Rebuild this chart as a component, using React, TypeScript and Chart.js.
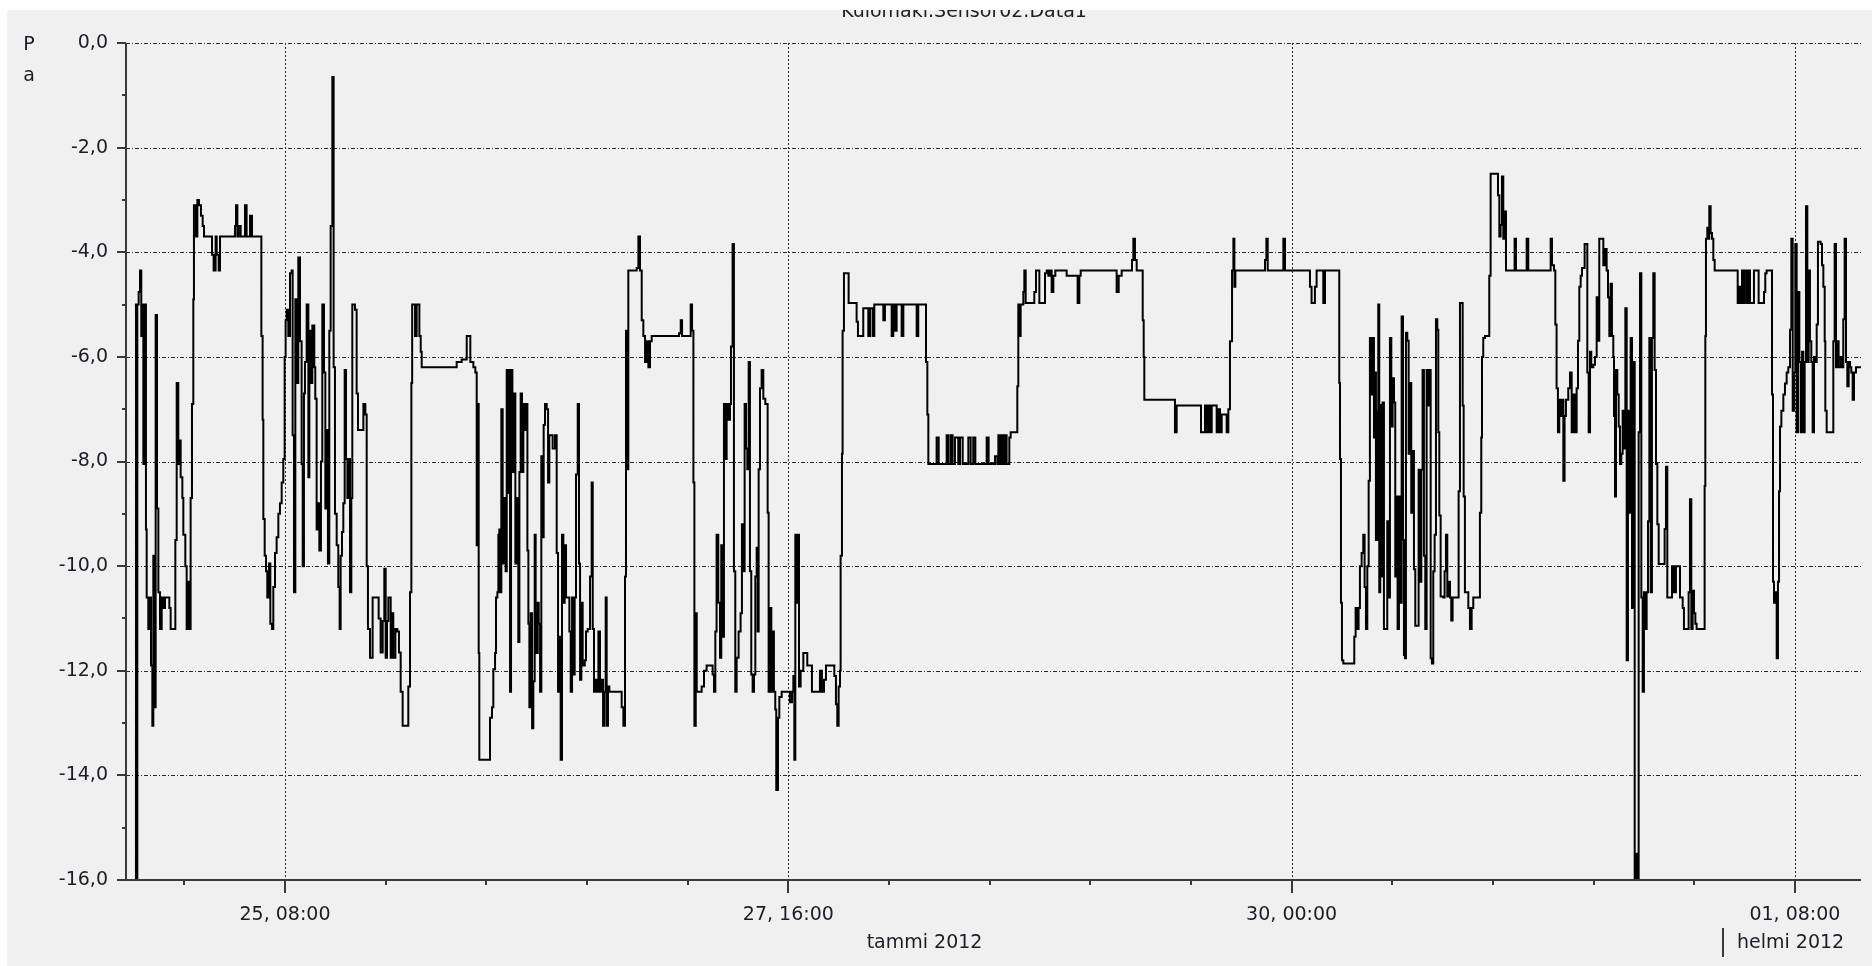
import React, { useEffect, useRef } from 'react';
import { Chart, registerables } from 'chart.js';

Chart.register(...registerables);

// ---- texts ----
const chartTitle = 'Kulomaki.Sensor02.Data1';
const yAxisTitle = ['P', 'a'];
const monthLabels = ['tammi 2012', 'helmi 2012'];
const monthStartHours = [0, 192];

// ---- axes (hours since 24 Jan 2012 00:00) ----
const xMinHour = 14.31;
const xMaxHour = 207.35;
const xTickHours = [32, 88, 144, 200];
const xTickLabels = ['25, 08:00', '27, 16:00', '30, 00:00', '01, 08:00'];
const xMinorHours = [20.8, 43.2, 54.4, 65.6, 76.8, 99.2, 110.4, 121.6, 132.8, 155.2, 166.4, 177.6, 188.8];
const yMin = -16;
const yMax = 0;
const yTickValues = [-16, -14, -12, -10, -8, -6, -4, -2, 0];
const yMinorValues = [-15, -13, -11, -9, -7, -5, -3, -1];

// ---- series: time (h) where each new level starts, and the level (Pa) ----
const hours = [
  15.30, 15.42, 15.57, 15.72, 15.87, 16.01, 16.09, 16.24, 16.42, 16.53, 16.61, 16.79, 16.98, 17.09, 17.24, 17.35,
  17.46, 17.61, 17.76, 17.91, 18.09, 18.28, 18.46, 18.65, 19.13, 19.28, 19.80, 19.95, 20.13, 20.24, 20.39, 20.58,
  20.69, 20.91, 21.06, 21.24, 21.43, 21.50, 21.65, 21.80, 21.87, 22.10, 22.25, 22.43, 22.65, 22.84, 22.99, 23.88,
  24.06, 24.28, 24.40, 24.62, 24.77, 26.44, 26.55, 26.70, 26.84, 27.07, 27.55, 27.73, 28.11, 28.33, 29.37, 29.51,
  29.59, 29.74, 29.89, 30.03, 30.22, 30.37, 30.55, 30.70, 30.89, 31.07, 31.26, 31.44, 31.63, 31.81, 31.96, 32.07,
  32.19, 32.37, 32.56, 32.74, 32.85, 33.00, 33.15, 33.30, 33.48, 33.67, 33.85, 33.97, 34.11, 34.22, 34.41, 34.60,
  34.71, 34.86, 35.04, 35.26, 35.37, 35.52, 35.67, 35.82, 36.00, 36.15, 36.34, 36.49, 36.64, 36.78, 36.93, 37.08,
  37.27, 37.41, 37.56, 37.75, 37.93, 38.08, 38.19, 38.34, 38.49, 38.64, 38.79, 38.94, 39.08, 39.23, 39.38, 39.49,
  39.79, 39.97, 40.12, 40.72, 40.94, 41.09, 41.23, 41.46, 41.75, 42.42, 42.64, 42.87, 43.05, 43.20, 43.35, 43.50,
  43.76, 43.91, 44.05, 44.28, 44.50, 44.68, 44.87, 45.09, 45.72, 45.91, 46.06, 46.15, 46.47, 46.65, 46.95, 47.10,
  47.21, 51.10, 51.66, 52.22, 52.62, 52.96, 53.18, 53.33, 53.44, 53.55, 53.62, 54.81, 55.03, 55.18, 55.37, 55.48,
  55.63, 55.74, 55.85, 55.92, 56.07, 56.22, 56.41, 56.55, 56.67, 56.81, 56.93, 57.04, 57.15, 57.30, 57.48, 57.63,
  57.78, 57.96, 58.08, 58.22, 58.37, 58.52, 58.74, 58.89, 58.97, 59.08, 59.19, 59.34, 59.49, 59.63, 59.78, 59.89,
  60.00, 60.12, 60.23, 60.38, 60.52, 60.67, 60.78, 60.93, 61.12, 61.27, 61.41, 61.78, 62.04, 62.23, 62.38, 62.53,
  62.67, 62.82, 62.97, 63.12, 63.27, 63.64, 63.79, 63.94, 64.08, 64.23, 64.38, 64.57, 64.71, 64.83, 64.97, 65.12,
  65.35, 65.49, 65.68, 65.94, 66.12, 66.24, 66.38, 66.53, 66.68, 66.87, 67.05, 67.24, 67.39, 67.53, 67.68, 67.79,
  67.94, 68.09, 69.46, 69.65, 69.83, 69.94, 70.09, 70.20, 71.13, 71.32, 71.50, 71.69, 71.87, 72.06, 72.24, 72.43,
  72.61, 72.80, 75.84, 76.03, 76.18, 77.14, 77.29, 77.44, 77.55, 77.70, 77.81, 78.36, 78.62, 78.91, 79.58, 79.73,
  79.88, 80.02, 80.21, 80.40, 80.54, 80.69, 80.84, 81.06, 81.14, 81.36, 81.51, 81.62, 81.80, 81.95, 82.10, 82.25,
  82.47, 82.69, 82.84, 82.99, 83.14, 83.29, 83.44, 83.59, 83.73, 83.88, 84.03, 84.18, 84.33, 84.48, 84.59, 84.70,
  84.85, 85.03, 85.22, 85.44, 85.70, 85.81, 85.96, 86.11, 86.26, 86.40, 86.55, 86.66, 86.85, 87.00, 87.26, 88.18,
  88.41, 88.56, 88.67, 88.78, 88.93, 89.07, 89.19, 89.37, 89.67, 90.11, 90.63, 91.52, 91.74, 91.97, 92.19, 93.12,
  93.30, 93.45, 93.60, 93.75, 93.82, 93.97, 94.04, 94.19, 94.71, 95.60, 95.75, 96.34, 96.90, 97.09, 97.38, 97.57,
  98.57, 98.75, 99.50, 99.68, 99.87, 100.05, 100.61, 100.80, 102.28, 102.46, 103.32, 103.47, 103.58, 104.50, 104.73, 105.62,
  105.80, 106.06, 106.28, 106.54, 106.91, 107.10, 107.40, 108.03, 108.29, 108.58, 108.81, 110.07, 110.29, 111.00, 111.26, 111.37,
  111.55, 111.74, 111.92, 112.11, 112.29, 112.59, 112.74, 113.48, 113.59, 113.70, 113.85, 114.15, 114.26, 114.41, 115.37, 115.56,
  115.93, 116.56, 116.75, 116.93, 117.12, 117.30, 117.49, 117.71, 118.97, 120.19, 120.38, 120.53, 124.53, 124.76, 125.09, 126.24,
  126.39, 126.57, 126.76, 127.43, 127.54, 127.61, 131.02, 131.21, 133.92, 134.36, 134.55, 134.73, 134.92, 135.11, 135.66, 135.85,
  136.03, 136.22, 136.77, 136.96, 137.14, 137.37, 137.52, 137.63, 137.74, 141.04, 141.19, 141.34, 143.08, 143.26, 146.04, 146.22,
  146.59, 146.78, 147.52, 147.71, 149.30, 149.38, 149.49, 149.60, 149.75, 150.97, 151.12, 151.30, 151.45, 151.60, 151.79, 151.97,
  152.12, 152.27, 152.42, 152.57, 152.71, 152.86, 153.01, 153.16, 153.27, 153.38, 153.53, 153.64, 153.75, 153.86, 154.01, 154.12,
  154.27, 154.64, 154.79, 154.94, 155.09, 155.24, 155.39, 155.53, 155.68, 155.79, 155.94, 156.13, 156.24, 156.39, 156.50, 156.61,
  156.72, 156.87, 157.02, 157.17, 157.31, 157.46, 157.61, 157.76, 158.13, 158.28, 158.43, 158.57, 158.72, 158.87, 159.02, 159.17,
  159.32, 159.47, 159.61, 159.76, 159.91, 160.06, 160.21, 160.32, 160.43, 160.58, 160.87, 161.02, 161.17, 161.32, 161.47, 161.62,
  161.76, 161.91, 162.58, 162.73, 163.03, 163.14, 163.28, 163.66, 163.84, 164.03, 164.21, 164.95, 165.10, 165.18, 165.32, 165.51,
  165.99, 166.14, 166.96, 167.11, 167.25, 167.40, 167.55, 167.70, 167.85, 168.81, 168.96, 170.15, 170.33, 172.82, 172.97, 173.19,
  173.34, 173.48, 173.63, 173.78, 173.93, 174.08, 174.23, 174.37, 174.52, 174.78, 174.97, 175.16, 175.34, 175.53, 175.71, 175.86,
  176.01, 176.16, 176.31, 176.60, 176.90, 177.05, 177.20, 177.34, 177.57, 177.75, 177.94, 178.12, 178.23, 178.68, 178.86, 179.05,
  179.20, 179.35, 179.49, 179.64, 179.79, 179.87, 179.98, 180.09, 180.24, 180.39, 180.53, 180.68, 180.83, 180.98, 181.13, 181.28,
  181.42, 181.57, 181.72, 181.87, 182.02, 182.17, 182.31, 182.46, 182.61, 182.76, 182.91, 183.06, 183.20, 183.35, 183.50, 183.65,
  183.80, 183.95, 184.09, 184.24, 184.39, 184.54, 184.69, 184.84, 185.50, 185.65, 185.80, 186.32, 186.54, 186.76, 187.21, 187.51,
  187.65, 188.17, 188.32, 188.47, 188.62, 188.77, 188.92, 189.06, 189.95, 190.03, 190.10, 190.25, 190.40, 190.47, 190.62, 190.77,
  190.92, 191.07, 193.63, 193.81, 193.96, 194.11, 194.26, 194.40, 194.63, 194.81, 195.00, 195.44, 195.96, 196.56, 196.70, 196.85,
  197.45, 197.56, 197.67, 197.82, 197.97, 198.11, 198.23, 198.34, 198.49, 198.71, 198.89, 199.08, 199.26, 199.45, 199.60, 199.75,
  199.89, 200.04, 200.19, 200.34, 200.49, 200.64, 200.79, 200.93, 201.08, 201.23, 201.38, 201.53, 201.67, 201.82, 201.97, 202.12,
  202.27, 202.42, 202.56, 202.86, 203.01, 203.16, 203.31, 203.38, 203.53, 204.27, 204.42, 204.57, 204.72, 204.86, 205.09, 205.23,
  205.38, 205.53, 205.68, 205.83, 205.98, 206.13, 206.27, 206.42, 206.57, 206.79, 207.35,
];

const pressure = [
  -5.0, -16.0, -5.0, -4.76, -4.35, -5.6, -5.0, -8.05, -5.0, -9.3, -10.6, -11.2, -10.6, -11.9, -13.05, -9.8,
  -12.7, -5.2, -8.9, -10.5, -11.2, -10.6, -10.8, -10.6, -10.8, -11.2, -9.5, -6.5, -8.05, -7.6, -8.3, -8.7,
  -9.4, -10.0, -11.2, -10.3, -11.2, -8.7, -6.9, -4.9, -3.1, -3.7, -3.0, -3.1, -3.3, -3.5, -3.7, -4.05,
  -4.35, -3.7, -4.05, -4.35, -3.7, -3.5, -3.1, -3.7, -3.5, -3.7, -3.1, -3.7, -3.3, -3.7, -5.6, -7.2,
  -9.1, -9.8, -10.1, -10.6, -9.95, -11.1, -11.2, -10.4, -9.75, -9.45, -9.0, -8.8, -8.4, -7.95, -6.0, -5.3,
  -5.1, -5.6, -4.4, -4.35, -7.5, -10.5, -4.9, -6.5, -4.1, -5.7, -8.05, -10.0, -6.7, -6.1, -5.0, -8.3,
  -5.5, -6.5, -5.4, -6.2, -6.8, -9.3, -8.8, -9.7, -8.0, -5.0, -6.3, -8.9, -7.4, -9.95, -5.5, -3.5,
  -0.65, -6.2, -9.0, -9.6, -10.4, -11.2, -9.8, -9.35, -8.8, -6.25, -7.95, -8.7, -7.95, -10.5, -8.7, -5.0,
  -5.1, -6.7, -7.4, -6.9, -7.1, -10.0, -11.2, -11.75, -10.6, -11.0, -11.65, -11.05, -10.05, -11.75, -11.05, -10.6,
  -11.75, -10.9, -11.75, -11.2, -11.25, -11.65, -12.4, -13.05, -12.3, -10.5, -6.5, -5.0, -5.6, -5.0, -5.6, -5.9,
  -6.2, -6.1, -6.05, -5.6, -6.1, -6.2, -6.3, -9.6, -6.9, -11.66, -13.7, -12.9, -12.7, -11.97, -11.66, -10.6,
  -10.5, -9.4, -9.3, -10.5, -7.0, -9.95, -8.7, -10.1, -6.25, -8.6, -6.25, -12.4, -6.25, -8.2, -6.7, -9.95,
  -8.7, -11.45, -8.2, -6.7, -8.2, -6.9, -7.4, -6.9, -9.7, -11.1, -12.7, -10.9, -13.1, -12.2, -9.4, -10.9,
  -11.66, -10.7, -11.1, -12.4, -7.9, -9.45, -7.3, -6.9, -7.0, -8.4, -7.5, -7.75, -7.5, -9.75, -12.4, -11.35,
  -13.7, -9.4, -10.7, -9.6, -10.6, -11.25, -12.4, -10.6, -12.07, -10.6, -8.25, -6.9, -9.95, -12.17, -10.7, -11.9,
  -11.8, -11.25, -11.2, -10.2, -8.4, -11.2, -12.4, -12.17, -12.4, -11.25, -12.4, -12.17, -13.05, -12.4, -10.6, -13.05,
  -12.3, -12.4, -12.7, -13.05, -10.2, -5.5, -8.15, -4.35, -4.3, -3.7, -4.35, -5.3, -5.6, -6.1, -5.7, -6.2,
  -5.7, -5.6, -5.55, -5.3, -5.6, -5.0, -5.5, -8.4, -13.05, -10.9, -12.4, -12.3, -12.0, -11.9, -12.07, -12.4,
  -11.25, -9.4, -10.7, -11.75, -9.6, -11.35, -6.9, -7.95, -6.9, -7.2, -6.9, -5.8, -3.84, -10.1, -12.4, -11.75,
  -11.25, -10.9, -9.2, -10.1, -6.9, -7.75, -8.15, -6.1, -10.1, -12.07, -12.4, -12.07, -10.2, -9.65, -11.25, -8.15,
  -6.6, -6.25, -6.8, -6.9, -8.98, -12.4, -10.8, -12.4, -11.25, -12.4, -12.74, -14.28, -12.9, -12.5, -12.4, -12.6,
  -12.4, -12.1, -13.7, -9.4, -10.7, -9.4, -12.3, -12.0, -11.66, -11.9, -12.4, -12.0, -12.4, -12.17, -11.9, -12.1,
  -12.64, -13.05, -12.3, -12.0, -9.8, -7.85, -5.5, -4.4, -4.97, -5.33, -5.6, -5.07, -5.6, -5.07, -5.6, -5.0,
  -5.3, -5.0, -5.6, -5.0, -5.5, -5.0, -5.6, -5.0, -5.6, -5.0, -6.1, -7.1, -8.05, -7.54, -8.05, -7.5,
  -8.05, -7.5, -8.05, -7.54, -8.05, -7.54, -8.05, -7.54, -8.05, -7.54, -8.05, -7.54, -8.05, -7.9, -8.05, -7.5,
  -8.05, -7.5, -8.05, -7.5, -8.05, -7.54, -7.44, -6.56, -5.0, -5.6, -5.0, -4.76, -4.35, -4.97, -4.76, -4.35,
  -4.97, -4.4, -4.35, -4.45, -4.35, -4.76, -4.45, -4.35, -4.45, -4.97, -4.45, -4.35, -4.76, -4.45, -4.35, -4.15,
  -3.74, -4.15, -4.35, -5.3, -6.0, -6.82, -7.44, -6.93, -7.44, -6.93, -7.44, -6.93, -7.44, -6.93, -7.44, -7.0,
  -7.44, -7.1, -7.44, -7.0, -5.7, -4.35, -3.74, -4.66, -4.35, -4.15, -3.74, -4.35, -3.74, -4.35, -4.66, -4.97,
  -4.66, -4.35, -4.97, -4.35, -6.5, -7.95, -10.7, -11.8, -11.86, -11.35, -10.8, -11.2, -10.8, -10.0, -9.75, -9.4,
  -10.4, -11.2, -10.0, -8.37, -5.64, -6.72, -5.64, -7.54, -6.3, -9.5, -7.03, -5.0, -10.5, -6.92, -10.2, -6.87,
  -11.2, -9.14, -10.6, -5.64, -7.33, -6.41, -6.87, -10.2, -8.67, -11.2, -8.67, -10.7, -5.23, -9.5, -11.7, -11.76,
  -5.54, -5.69, -7.85, -6.5, -8.98, -7.8, -10.06, -11.14, -8.16, -10.3, -8.16, -6.25, -9.8, -11.2, -6.25, -6.93,
  -6.25, -11.76, -11.86, -10.1, -9.4, -5.28, -5.48, -7.44, -9.03, -10.58, -10.6, -10.1, -9.4, -10.58, -10.3, -10.6,
  -11.04, -10.6, -8.57, -4.97, -6.93, -8.67, -10.5, -10.8, -11.2, -10.8, -10.6, -8.98, -7.54, -6.0, -5.64, -5.6,
  -4.45, -2.5, -2.91, -3.7, -3.48, -2.55, -3.74, -3.22, -4.35, -3.74, -4.35, -3.74, -4.35, -3.74, -4.25, -4.35,
  -5.38, -6.6, -7.44, -6.82, -7.13, -6.82, -8.37, -7.13, -6.82, -6.6, -6.3, -7.44, -6.72, -7.44, -6.6, -5.69,
  -4.66, -4.45, -4.3, -3.84, -6.3, -7.44, -5.9, -6.2, -6.15, -6.0, -4.86, -5.69, -3.74, -4.25, -3.94, -4.35,
  -4.86, -5.6, -4.6, -5.6, -6.0, -7.13, -8.67, -6.25, -6.72, -7.33, -8.05, -7.85, -7.03, -7.75, -5.07, -11.8,
  -7.03, -8.98, -5.64, -10.8, -6.1, -16.0, -15.5, -16.0, -7.44, -4.4, -10.6, -12.4, -10.5, -11.2, -10.5, -9.14,
  -5.64, -10.5, -5.64, -4.4, -6.25, -8.05, -9.2, -9.96, -9.29, -8.1, -10.6, -10.0, -10.5, -10.0, -10.6, -10.8,
  -11.2, -10.5, -8.72, -11.2, -10.47, -10.9, -11.1, -11.2, -8.47, -5.6, -3.74, -3.53, -3.74, -3.12, -3.63, -3.74,
  -4.15, -4.35, -4.97, -4.66, -4.97, -4.35, -4.97, -4.35, -4.97, -4.35, -4.97, -4.35, -4.97, -4.76, -4.4, -4.35,
  -6.72, -10.3, -10.7, -10.5, -11.76, -10.3, -8.57, -7.33, -7.03, -6.72, -6.51, -6.3, -6.2, -5.48, -3.74, -7.03,
  -6.3, -3.84, -7.44, -4.76, -6.1, -7.44, -5.9, -7.44, -6.1, -3.12, -6.1, -4.35, -5.7, -6.1, -7.44, -6.0,
  -6.1, -5.38, -3.8, -3.84, -4.25, -4.66, -5.7, -7.03, -7.44, -5.7, -3.84, -6.2, -5.7, -6.2, -6.0, -6.2,
  -5.28, -3.74, -6.1, -6.56, -6.1, -6.2, -6.3, -6.82, -6.3, -6.2, -6.2,
];

const FONT = '"DejaVu Sans", Verdana, sans-serif';
const TEXT = '#1c1c28';
const AXIS = '#3a3a3a';

const decorPlugin = {
  id: 'decor',
  beforeDatasetsDraw(chart: any) {
    const { ctx, chartArea: a, scales } = chart;
    const xs = scales.x;
    const ys = scales.y;
    ctx.save();
    ctx.lineWidth = 1;
    ctx.strokeStyle = '#2a2a2a';
    ctx.setLineDash([4, 2, 1, 2]);
    for (const v of yTickValues) {
      if (v === yMin) continue;
      const py = Math.round(ys.getPixelForValue(v)) + 0.5;
      ctx.beginPath();
      ctx.moveTo(a.left, py);
      ctx.lineTo(a.right, py);
      ctx.stroke();
    }
    ctx.setLineDash([2, 2]);
    for (const h of xTickHours) {
      const px = Math.round(xs.getPixelForValue(h)) + 0.5;
      ctx.beginPath();
      ctx.moveTo(px, a.top);
      ctx.lineTo(px, a.bottom);
      ctx.stroke();
    }
    ctx.restore();
  },
  afterDraw(chart: any) {
    const { ctx, chartArea: a, scales } = chart;
    const xs = scales.x;
    const ys = scales.y;
    ctx.save();
    ctx.setLineDash([]);
    ctx.strokeStyle = AXIS;
    ctx.lineWidth = 2;
    // axis lines
    ctx.beginPath();
    ctx.moveTo(a.left, a.top);
    ctx.lineTo(a.left, a.bottom + 1);
    ctx.moveTo(a.left - 1, a.bottom);
    ctx.lineTo(a.right, a.bottom);
    ctx.stroke();
    // y ticks
    ctx.beginPath();
    for (const v of yTickValues) {
      const py = Math.round(ys.getPixelForValue(v));
      ctx.moveTo(a.left - 9, py);
      ctx.lineTo(a.left, py);
    }
    for (const v of yMinorValues) {
      const py = Math.round(ys.getPixelForValue(v));
      ctx.moveTo(a.left - 4, py);
      ctx.lineTo(a.left, py);
    }
    // x ticks
    for (const h of xTickHours) {
      const px = Math.round(xs.getPixelForValue(h));
      ctx.moveTo(px, a.bottom);
      ctx.lineTo(px, a.bottom + 13);
    }
    for (const h of xMinorHours) {
      const px = Math.round(xs.getPixelForValue(h));
      ctx.moveTo(px, a.bottom);
      ctx.lineTo(px, a.bottom + 5);
    }
    ctx.stroke();

    // month labels
    ctx.fillStyle = TEXT;
    ctx.font = `19px ${FONT}`;
    ctx.textBaseline = 'middle';
    const monthY = a.bottom + 63;
    for (let i = 0; i < monthLabels.length; i++) {
      const start = Math.max(monthStartHours[i], xMinHour);
      const end = i + 1 < monthStartHours.length ? monthStartHours[i + 1] : xMaxHour;
      const p0 = xs.getPixelForValue(start);
      const p1 = xs.getPixelForValue(end);
      if (monthStartHours[i] > xMinHour) {
        const bx = Math.round(p0);
        ctx.beginPath();
        ctx.moveTo(bx, a.bottom + 48);
        ctx.lineTo(bx, a.bottom + 77);
        ctx.stroke();
        ctx.textAlign = 'left';
        ctx.fillText(monthLabels[i], bx + 14, monthY);
      } else {
        ctx.textAlign = 'center';
        ctx.fillText(monthLabels[i], (p0 + p1) / 2, monthY);
      }
    }

    // y axis title (stacked letters)
    ctx.textAlign = 'center';
    ctx.textBaseline = 'alphabetic';
    yAxisTitle.forEach((ch, i) => {
      ctx.fillText(ch, 22, 40 + i * 31);
    });

    // chart title (partly cut by the top edge)
    ctx.fillText(chartTitle, 957, 7);
    ctx.restore();
  },
};

export default function App() {
  const canvasRef = useRef<HTMLCanvasElement | null>(null);

  useEffect(() => {
    const canvas = canvasRef.current;
    if (!canvas) return;
    const points = hours.map((h, i) => ({ x: h, y: pressure[i] }));
    const chart = new Chart(canvas, {
      type: 'line',
      data: {
        datasets: [
          {
            data: points,
            stepped: 'before',
            borderColor: '#000000',
            borderWidth: 2,
            pointRadius: 0,
            fill: false,
            tension: 0,
          },
        ],
      },
      options: {
        responsive: false,
        animation: false,
        devicePixelRatio: 1,
        events: [],
        layout: { padding: { left: 0, top: 33, right: 11, bottom: 0 } },
        plugins: {
          legend: { display: false },
          tooltip: { enabled: false },
          title: { display: false },
        },
        scales: {
          x: {
            type: 'linear',
            min: xMinHour,
            max: xMaxHour,
            grid: { display: false, drawTicks: false },
            border: { display: false },
            afterBuildTicks: (scale: any) => {
              scale.ticks = xTickHours.map((v) => ({ value: v }));
            },
            afterFit: (scale: any) => {
              scale.height = 86;
            },
            ticks: {
              autoSkip: false,
              maxRotation: 0,
              minRotation: 0,
              padding: 24,
              color: TEXT,
              font: { family: FONT, size: 19 },
              callback: (_v: any, index: number) => xTickLabels[index],
            },
          },
          y: {
            type: 'linear',
            min: yMin,
            max: yMax,
            grid: { display: false, drawTicks: false },
            border: { display: false },
            afterBuildTicks: (scale: any) => {
              scale.ticks = yTickValues.map((v) => ({ value: v }));
            },
            afterFit: (scale: any) => {
              scale.width = 119;
            },
            ticks: {
              autoSkip: false,
              padding: 18,
              color: TEXT,
              font: { family: FONT, size: 19 },
              callback: (v: any) => Number(v).toFixed(1).replace('.', ','),
            },
          },
        },
      },
      plugins: [decorPlugin],
    });
    return () => chart.destroy();
  }, []);

  return (
    <div
      style={{
        position: 'fixed',
        left: 7,
        top: 10,
        width: 1865,
        height: 956,
        background: '#f0f0f0',
      }}
    >
      <canvas ref={canvasRef} width={1865} height={956} style={{ display: 'block', width: 1865, height: 956 }} />
    </div>
  );
}
